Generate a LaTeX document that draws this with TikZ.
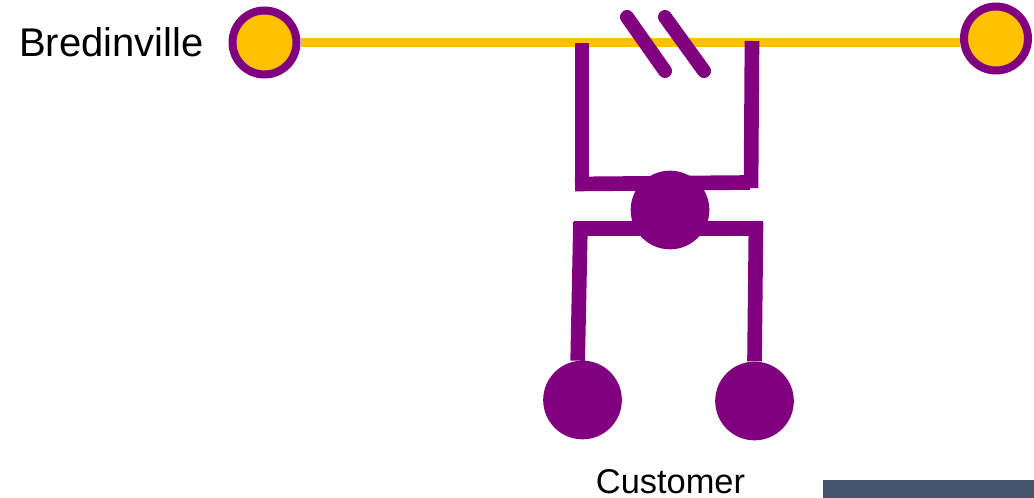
\documentclass[tikz,border=0pt]{standalone}
\usepackage{fontspec}
\setmainfont{Liberation Sans}
\definecolor{linepurple}{HTML}{800080}
\definecolor{lineyellow}{HTML}{FFC000}
\definecolor{boxslate}{HTML}{44546A}
\tikzset{
  station/.style={circle,draw=linepurple,fill=lineyellow,line width=6pt,minimum size=48pt,inner sep=0pt},
  hub/.style={circle,fill=linepurple,minimum size=59pt,inner sep=0pt},
  track/.style={draw=lineyellow,line width=6.2pt},
  branch/.style={draw=linepurple,line width=11pt},
  slash/.style={draw=linepurple,line width=10.5pt,line cap=round}
}
\begin{document}
\begin{tikzpicture}[x=0.75pt,y=0.75pt,yscale=-1,xscale=1]
    \useasboundingbox (0,0) rectangle (1034,498);

    %Shape: Rectangle
    \fill[boxslate] (823,480) rectangle (1034,498);

    % Stations
    \node [station] (left) at (264.5,42.5) {};
    \node [station] (right) at (996,38.5) {};
    \draw [track] (left) -- (right.west |- left);

    % Branch ends
    \coordinate (topleft) at (582,43);
    \coordinate (topleftb) at (582,191);
    \coordinate (topright) at (752,41);
    \coordinate (toprightb) at (751,188);
    \coordinate (upperl) at (575,184);
    \coordinate (upperr) at (750,182.5);
    \coordinate (lowerl) at (574,228.5);
    \coordinate (lowerr) at (763,228.5);
    \coordinate (downl) at (580.5,222);
    \coordinate (downr) at (756,222);

    %Straight Lines
    \draw [branch] (topleft) -- (topleftb);
    \draw [branch] (topright) -- (toprightb);
    \draw [branch] (upperl) -- (upperr);
    \draw [branch] (lowerl) -- (lowerr);

    %Shape: Ellipse
    \node [hub] (mid) at (670,210) {};
    \node [hub] (custl) at (582.5,400) {};
    \node [hub] (custr) at (754.5,401) {};

    %Straight Lines
    \draw [branch] (downl) -- (custl.97);
    \draw [branch] (downr) -- (custr.north);

    % Break in the line
    \coordinate (slashaa) at (627,17);
    \coordinate (slashab) at (665,71);
    \coordinate (slashba) at (665,17);
    \coordinate (slashbb) at (704,71);
    \draw [slash] (slashaa) -- (slashab);
    \draw [slash] (slashba) -- (slashbb);

    % Text Node
    \node [anchor=east,inner sep=0pt,font=\fontsize{30pt}{34pt}\selectfont] (name) at (204,42) {Bredinville};
    % Text Node
    \node [anchor=base,inner sep=0pt,font=\fontsize{25.8pt}{30pt}\selectfont] (cust) at (670.5,493) {Customer};
\end{tikzpicture}
\end{document}
